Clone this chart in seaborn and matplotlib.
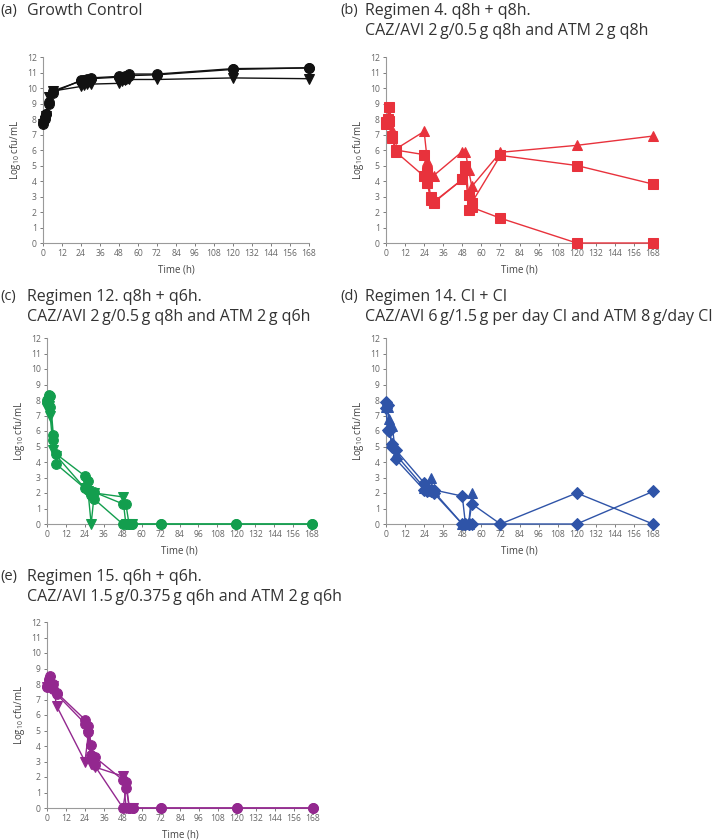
import matplotlib
matplotlib.use("Agg")
import matplotlib.pyplot as plt
import seaborn as sns

# ---------------- data ----------------
T16 = [0, 1, 2, 4, 6, 24, 26, 28, 30, 48, 50, 52, 54, 72, 120, 168]
T13 = [0, 1, 2, 4, 6, 24, 26, 28, 30, 48, 50, 52, 54]

# (a) Growth control
a_circle = [7.7, 8.0, 8.3, 9.1, 9.7, 10.5, 10.5, 10.55, 10.65, 10.75, 10.7, 10.8, 10.9, 10.9, 11.25, 11.3]
a_circle2 = [7.8, 8.1, 8.3, 9.0, 9.8, 10.45, 10.5, 10.4, 10.6, 10.7, 10.55, 10.6, 10.8, 10.85, 11.2, 11.3]
a_tridown = [7.7, 7.9, 8.2, 9.4, 9.8, 10.1, 10.2, 10.25, 10.25, 10.3, 10.45, 10.5, 10.55, 10.55, 10.65, 10.6]

# (b) Regimen 4
b_sq1 = [7.7, 8.0, 8.75, 6.9, 6.0, 5.7, 4.6, 3.0, 2.65, 4.1, 5.0, 3.1, 2.6, 5.65, 5.0, 3.8]
b_sq2 = [7.8, 7.9, 7.9, 6.8, 5.9, 4.3, 3.9, 2.8, 2.6, 4.1, 4.7, 2.15, 2.3, 1.6, 0.0, 0.0]
b_triup = [7.9, 8.1, 8.2, 7.3, 6.05, 7.2, 5.3, 4.4, 4.35, 5.9, 5.9, 4.7, 3.65, 5.85, 6.3, 6.9]

# (c) Regimen 12
c_circ1 = [8.0, 8.3, 8.25, 5.75, 4.5, 3.1, 2.75, 2.0, 2.05, 1.3, 1.3, 0, 0, 0, 0, 0]
c_circ2 = [7.85, 8.2, 7.55, 5.45, 3.85, 2.3, 2.2, 1.9, 1.6, 0, 0, 0, 0, 0, 0, 0]
c_tridown = [7.5, 7.6, 7.0, 4.75, 4.4, 2.3, 2.1, 0.0, 2.0, 1.75, 0, 0, 0]

# (d) Regimen 14
d_dia1 = [7.85, 7.7, 6.0, 5.15, 4.8, 2.65, 2.3, 2.2, 2.2, 1.8, 0, 0, 1.3, 0, 2.0, 0]
d_dia2 = [7.5, 6.05, 6.0, 5.0, 4.2, 2.2, 2.15, 2.1, 2.0, 0, 0, 0, 0, 0, 0, 2.1]
d_triup = [7.55, 7.55, 6.8, 6.3, 4.5, 2.35, 2.3, 2.95, 2.1, 0, 0, 0, 2.0]

# (e) Regimen 15
e_circ1 = [7.9, 8.1, 8.5, 8.0, 7.45, 5.7, 5.3, 4.05, 3.3, 1.8, 1.65, 0, 0, 0, 0, 0]
e_circ2 = [7.8, 8.3, 8.0, 7.7, 7.35, 5.45, 4.9, 3.45, 2.75, 0, 1.3, 0, 0, 0, 0, 0]
e_tridown = [7.8, 8.0, 8.2, 7.9, 6.6, 3.0, 4.7, 2.85, 2.65, 2.05, 0, 0, 0]

x_ticks = list(range(0, 169, 12))
y_ticks = list(range(0, 13))

panels = [
    dict(tag="(a)", lines=["Growth Control"], color="#111111",
         series=[(T16, a_tridown, "v"), (T16, a_circle2, "o"), (T16, a_circle, "o")]),
    dict(tag="(b)", lines=["Regimen 4. q8h + q8h.", "CAZ/AVI 2\u2009g/0.5\u2009g q8h and ATM 2\u2009g q8h"],
         color="#E8323C",
         series=[(T16, b_sq2, "s"), (T16, b_sq1, "s"), (T16, b_triup, "^")]),
    dict(tag="(c)", lines=["Regimen 12. q8h + q6h.", "CAZ/AVI 2\u2009g/0.5\u2009g q8h and ATM 2\u2009g q6h"],
         color="#139E4E",
         series=[(T13, c_tridown, "v"), (T16, c_circ2, "o"), (T16, c_circ1, "o")]),
    dict(tag="(d)", lines=["Regimen 14. CI + CI", "CAZ/AVI 6\u2009g/1.5\u2009g per day CI and ATM 8\u2009g/day CI"],
         color="#2F54A8",
         series=[(T13, d_triup, "^"), (T16, d_dia2, "D"), (T16, d_dia1, "D")]),
    dict(tag="(e)", lines=["Regimen 15. q6h + q6h.", "CAZ/AVI 1.5\u2009g/0.375\u2009g q6h and ATM 2\u2009g q6h"],
         color="#93288F",
         series=[(T13, e_tridown, "v"), (T16, e_circ2, "o"), (T16, e_circ1, "o")]),
]

# ---------------- style ----------------
sns.set_theme(style="ticks")
plt.rcParams["font.family"] = ["Open Sans", "DejaVu Sans"]
plt.rcParams["mathtext.fontset"] = "custom"
plt.rcParams["mathtext.rm"] = "Open Sans"
plt.rcParams["mathtext.it"] = "Open Sans"

W, H = 724, 840
fig = plt.figure(figsize=(W / 100, H / 100), dpi=100)

# axes rectangles in pixels: (left, top, right, bottom)
rects = [(43, 57, 309, 243), (386, 57, 653, 243),
         (47, 338, 312, 524), (386, 338, 653, 524),
         (47, 622, 313, 808)]
# title anchors (tag x, text x, top y)
title_pos = [(0, 27, 3), (340, 365, 3), (0, 27, 289), (340, 365, 289), (0, 27, 569)]

spine_c = "#9a9a9a"
tick_c = "#666666"
msizes = {"o": 7.0, "s": 6.5, "v": 7.0, "^": 7.0, "D": 5.8}

for p, r, tp in zip(panels, rects, title_pos):
    l, t, rr, b = r
    ax = fig.add_axes([l / W, 1 - b / H, (rr - l) / W, (b - t) / H])
    for xs, ys, m in p["series"]:
        sns.lineplot(x=xs, y=ys, ax=ax, color=p["color"], marker=m, markersize=msizes[m],
                     markeredgecolor=p["color"], linewidth=1.0, sort=False,
                     estimator=None, clip_on=False, zorder=3)
    ax.set_xlim(0, 168)
    ax.set_ylim(0, 12)
    ax.set_xticks(x_ticks)
    ax.set_yticks(y_ticks)
    ax.tick_params(axis="both", labelsize=6.2, colors=tick_c, length=2.5, width=0.6,
                   pad=2)
    for s in ("top", "right"):
        ax.spines[s].set_visible(False)
    for s in ("left", "bottom"):
        ax.spines[s].set_color(spine_c)
        ax.spines[s].set_linewidth(0.8)
    ax.set_xlabel("Time (h)", fontsize=7, color="#444444", labelpad=4.5)
    ax.set_ylabel(r"Log$_{10}$ cfu/mL", fontsize=7, color="#444444", labelpad=3)

    tx, txx, ty = tp
    fig.text(tx / W, 1 - ty / H, p["tag"], fontsize=10.5, color="#333333",
             ha="left", va="top")
    for i, line in enumerate(p["lines"]):
        fig.text(txx / W, 1 - (ty + i * 20) / H, line, fontsize=11.5, color="#333333",
                 ha="left", va="top")

fig.savefig("out.png", dpi=100)
